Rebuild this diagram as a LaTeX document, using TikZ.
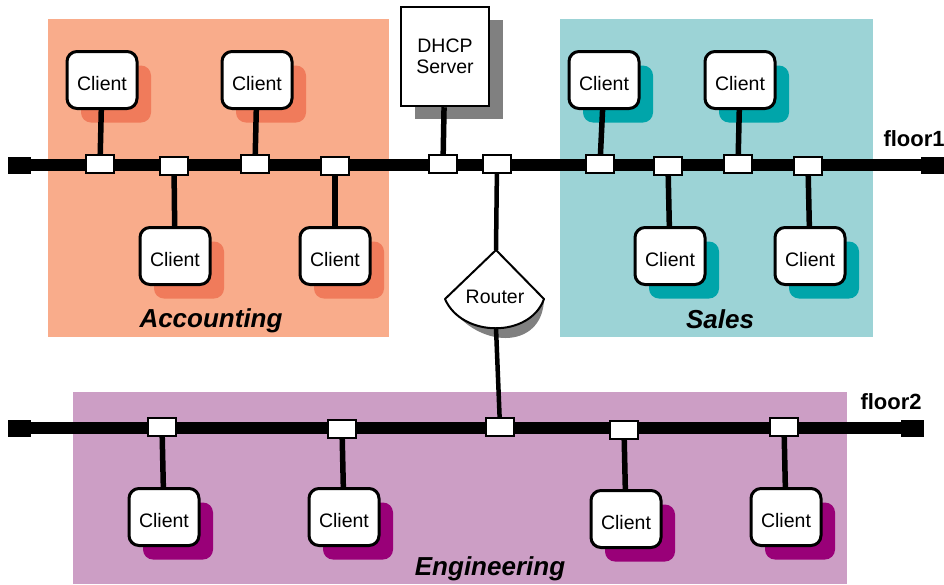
\documentclass[tikz,border=0pt]{standalone}
\usepackage{fontspec}
\setmainfont{Liberation Sans}
\usetikzlibrary{shadows}
\definecolor{accbg}{HTML}{F9AC8B}
\definecolor{accsh}{HTML}{F07B5B}
\definecolor{salbg}{HTML}{9CD3D6}
\definecolor{salsh}{HTML}{00A5AA}
\definecolor{engbg}{HTML}{CC9EC5}
\definecolor{engsh}{HTML}{990078}
\definecolor{srvsh}{HTML}{808080}
\begin{document}
\begin{tikzpicture}[x=1pt,y=-1pt,
 txt/.style={font=\fontsize{19.5}{22}\selectfont},
 client/.style={draw, line width=3pt, rounded corners=10pt, fill=white, minimum width=70pt, minimum height=57pt, inner sep=0pt, text height=20pt, text depth=0pt, txt},
 accclient/.style={client, drop shadow={shadow xshift=14pt, shadow yshift=-14pt, fill=accsh, opacity=1}},
 salclient/.style={client, drop shadow={shadow xshift=14pt, shadow yshift=-14pt, fill=salsh, opacity=1}},
 engclient/.style={client, drop shadow={shadow xshift=14pt, shadow yshift=-14pt, fill=engsh, opacity=1}},
 server/.style={draw, line width=2.5pt, fill=white, minimum width=88pt, minimum height=99pt, inner sep=0pt, align=center, txt, drop shadow={shadow xshift=14pt, shadow yshift=-13pt, fill=srvsh, opacity=1}},
 conn/.style={draw, fill=white, line width=1.5pt, minimum width=28pt, minimum height=18pt, inner sep=0pt},
 endblk/.style={fill=black, minimum width=23pt, minimum height=17pt, inner sep=0pt},
 bus/.style={line width=12pt},
 link/.style={line width=5.5pt},
 area/.style={font=\fontsize{26}{30}\selectfont\bfseries\itshape},
 floorlbl/.style={font=\fontsize{22}{26}\selectfont\bfseries}
]
\useasboundingbox (0,0) rectangle (944,584);
% areas
\fill[accbg] (48,19) rectangle (389,337);
\fill[salbg] (560,19) rectangle (873,337);
\fill[engbg] (73,392) rectangle (847,584);
\node[area] (acclbl) at (211,321) {Accounting};
\node[area] (sallbl) at (720,319) {Sales};
\node[area] (englbl) at (490,569) {Engineering};
\node[floorlbl, anchor=west] (f1lbl) at (880,139) {floor1};
\node[floorlbl, anchor=west] (f2lbl) at (857,402) {floor2};
% buses
\node[endblk] (e1l) at (19.5,165) {};
\node[endblk] (e1r) at (932.5,165) {};
\node[endblk] (e2l) at (19.5,428) {};
\node[endblk] (e2r) at (912.5,428) {};
\draw[bus] (e1l) -- (e1r);
\draw[bus] (e2l) -- (e2r);
% floor1 connectors
\node[conn] (cA1) at (100,164) {};
\node[conn] (cA3) at (174,166) {};
\node[conn] (cA2) at (255,164) {};
\node[conn] (cA4) at (335,166) {};
\node[conn] (cD) at (443,164) {};
\node[conn] (cR1) at (497,164) {};
\node[conn] (cS1) at (600,164) {};
\node[conn] (cS3) at (668,166) {};
\node[conn] (cS2) at (738,164) {};
\node[conn] (cS4) at (808,166) {};
% floor2 connectors
\node[conn] (cE1) at (162,427) {};
\node[conn] (cE2) at (342,429) {};
\node[conn] (cR2) at (500,427) {};
\node[conn] (cE3) at (624,430) {};
\node[conn] (cE4) at (784,427) {};
% clients
\node[accclient] (A1) at (102,80) {Client};
\node[accclient] (A2) at (257,80) {Client};
\node[accclient] (A3) at (175,256) {Client};
\node[accclient] (A4) at (335,256) {Client};
\node[salclient] (S1) at (604,80) {Client};
\node[salclient] (S2) at (740,80) {Client};
\node[salclient] (S3) at (670,256) {Client};
\node[salclient] (S4) at (810,256) {Client};
\node[engclient] (E1) at (164,517) {Client};
\node[engclient] (E2) at (344,517) {Client};
\node[engclient] (E3) at (626,519) {Client};
\node[engclient] (E4) at (786,517) {Client};
% server
\node[server] (dhcp) at (445,56.5) {DHCP\\[-1pt]Server};
% router
\coordinate (rtop) at (496,250);
\coordinate (rleft) at (445,299);
\coordinate (rright) at (544,299);
\coordinate (rbot) at (496,328);
\fill[srvsh, shift={(13,13)}] (rtop) -- (rright) .. controls (530,338) and (462,338) .. (rleft) -- cycle;
\draw[line width=2pt, fill=white, line join=round] (rtop) -- (rright) .. controls (530,338) and (462,338) .. (rleft) -- cycle;
\node[txt] (router) at (495,297) {Router};
% links
\draw[link] (A1) -- (cA1);
\draw[link] (A2) -- (cA2);
\draw[link] (A3) -- (cA3);
\draw[link] (A4) -- (cA4);
\draw[link] (S1) -- (cS1);
\draw[link] (S2) -- (cS2);
\draw[link] (S3) -- (cS3);
\draw[link] (S4) -- (cS4);
\draw[link] (E1) -- (cE1);
\draw[link] (E2) -- (cE2);
\draw[link] (E3) -- (cE3);
\draw[link] (E4) -- (cE4);
\draw[link] (dhcp) -- (cD);
\draw[line width=4.5pt] (cR1) -- (rtop);
\draw[line width=4.5pt] (rbot) -- (cR2);
\end{tikzpicture}
\end{document}
